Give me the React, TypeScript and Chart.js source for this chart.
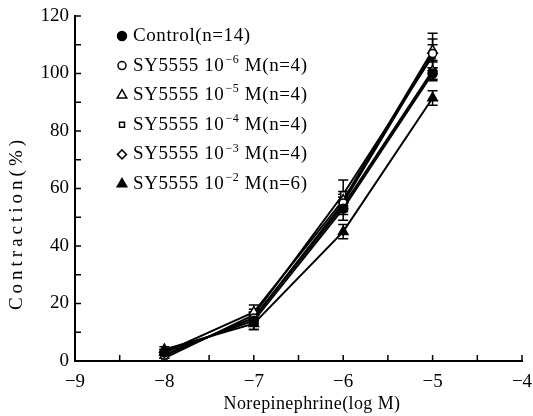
import React, { useEffect, useRef } from 'react';
import { Chart, registerables } from 'chart.js';
import { drawPoint } from 'chart.js/helpers';
Chart.register(...registerables);

// ---- data ----
const logDose = [-8, -7, -6, -5];
const controlValues = [3, 14, 53, 100];
const sy6Values = [2, 15, 55, 107];
const sy5Values = [3, 17, 56, 108];
const sy4Values = [1, 16, 58, 106];
const sy3Values = [2, 15, 54, 101];
const sy2Values = [4, 13, 45, 91.5];

const controlErr = [1, 3, 4, 2];
const sy6Err = [1, 2, 3, 7];
const sy5Err = [1, 2.5, 3, 4];
const sy4Err = [1, 2, 5, 4];
const sy3Err = [1, 2, 3, 3.5];
const sy2Err = [1, 2, 2.5, 2.5];

const labelPrefix = ['Control(n=14)', 'SY5555 10', 'SY5555 10', 'SY5555 10', 'SY5555 10', 'SY5555 10'];
const labelExp = ['', '−6', '−5', '−4', '−3', '−2'];
const labelSuffix = ['', ' M(n=4)', ' M(n=4)', ' M(n=4)', ' M(n=4)', ' M(n=6)'];

const xTickValues = [-9, -8, -7, -6, -5, -4];
const yTickValues = [0, 20, 40, 60, 80, 100, 120];

const xTitle = 'Norepinephrine(log M)';
const yTitle = 'Contraction(%)';

const FONT = '"Liberation Serif", "DejaVu Serif", serif';

const seriesValues = [controlValues, sy6Values, sy5Values, sy4Values, sy3Values, sy2Values];
const seriesErr = [controlErr, sy6Err, sy5Err, sy4Err, sy3Err, sy2Err];
const markerStyle = ['circle', 'circle', 'triangle', 'rect', 'rectRot', 'triangle'];
const markerFill = ['#000', '#fff', '#fff', '#fff', '#fff', '#000'];
const markerRadius = [4.5, 4, 5.5, 3.5, 4.5, 5.5];

const errorBars = {
  id: 'errorBars',
  beforeDatasetsDraw(chart: any) {
    const { ctx, scales } = chart;
    ctx.save();
    ctx.strokeStyle = '#000';
    ctx.lineWidth = 1.5;
    chart.data.datasets.forEach((ds: any) => {
      const errs = ds.errors as number[];
      ds.data.forEach((p: any, i: number) => {
        const x = scales.x.getPixelForValue(p.x);
        const yt = scales.y.getPixelForValue(p.y + errs[i]);
        const yb = scales.y.getPixelForValue(p.y - errs[i]);
        ctx.beginPath();
        ctx.moveTo(x, yt); ctx.lineTo(x, yb);
        ctx.moveTo(x - 5, yt); ctx.lineTo(x + 5, yt);
        ctx.moveTo(x - 5, yb); ctx.lineTo(x + 5, yb);
        ctx.stroke();
      });
    });
    ctx.restore();
  },
};

const decorations = {
  id: 'decorations',
  afterDraw(chart: any) {
    const { ctx, scales, chartArea } = chart;
    const xs = scales.x, ys = scales.y;
    ctx.save();
    ctx.strokeStyle = '#000';
    ctx.lineWidth = 1.5;
    // inward ticks (major + midpoints)
    const yt = ys.ticks.map((t: any) => t.value);
    const yAll: number[] = [];
    yt.forEach((v: number, i: number) => { yAll.push(v); if (i < yt.length - 1) yAll.push((v + yt[i + 1]) / 2); });
    yAll.forEach((v) => {
      const y = ys.getPixelForValue(v);
      ctx.beginPath(); ctx.moveTo(chartArea.left, y); ctx.lineTo(chartArea.left + 6, y); ctx.stroke();
    });
    const xt = xs.ticks.map((t: any) => t.value);
    const xAll: number[] = [];
    xt.forEach((v: number, i: number) => { xAll.push(v); if (i < xt.length - 1) xAll.push((v + xt[i + 1]) / 2); });
    xAll.forEach((v) => {
      const x = xs.getPixelForValue(v);
      ctx.beginPath(); ctx.moveTo(x, chartArea.bottom); ctx.lineTo(x, chartArea.bottom - 6); ctx.stroke();
    });
    // titles
    ctx.fillStyle = '#000';
    ctx.textAlign = 'center';
    ctx.textBaseline = 'middle';
    ctx.font = `18px ${FONT}`;
    (ctx as any).letterSpacing = '0.4px';
    ctx.fillText(xTitle, 312, 404);
    ctx.save();
    ctx.translate(17, 223);
    ctx.rotate(-Math.PI / 2);
    ctx.font = `19px ${FONT}`;
    (ctx as any).letterSpacing = '4px';
    ctx.fillText(yTitle, 0, 0);
    ctx.restore();
    // legend
    ctx.textAlign = 'left';
    (ctx as any).letterSpacing = '0.6px';
    labelPrefix.forEach((pre, i) => {
      const y = 36 + i * 29.6;
      ctx.fillStyle = markerFill[i];
      ctx.strokeStyle = '#000';
      ctx.lineWidth = 1.5;
      drawPoint(ctx, { pointStyle: markerStyle[i], radius: markerRadius[i], rotation: 0, borderWidth: 1.5 } as any, 122, y);
      ctx.fillStyle = '#000';
      let x = 133;
      ctx.font = `19px ${FONT}`;
      ctx.fillText(pre, x, y);
      x += ctx.measureText(pre).width + 1;
      if (labelExp[i]) {
        ctx.font = `12px ${FONT}`;
        ctx.fillText(labelExp[i], x, y - 6);
        x += ctx.measureText(labelExp[i]).width;
        ctx.font = `19px ${FONT}`;
        ctx.fillText(labelSuffix[i], x, y);
      }
    });
    ctx.restore();
  },
};

export default function App() {
  const ref = useRef<HTMLCanvasElement>(null);
  useEffect(() => {
    const datasets = seriesValues.map((vals, i) => ({
      label: labelPrefix[i] + labelExp[i] + labelSuffix[i],
      data: vals.map((v, j) => ({ x: logDose[j], y: v })),
      errors: seriesErr[i],
      borderColor: '#000',
      borderWidth: 2,
      backgroundColor: markerFill[i],
      pointBackgroundColor: markerFill[i],
      pointBorderColor: '#000',
      pointBorderWidth: 1.5,
      pointStyle: markerStyle[i],
      pointRadius: markerRadius[i],
      showLine: true,
      fill: false,
      tension: 0,
    }));
    const chart = new Chart(ref.current!, {
      type: 'scatter',
      data: { datasets } as any,
      plugins: [errorBars, decorations],
      options: {
        animation: false,
        responsive: true,
        maintainAspectRatio: false,
        layout: { padding: { top: 16, right: 11, left: 0, bottom: 0 } },
        plugins: { legend: { display: false }, tooltip: { enabled: false } },
        scales: {
          x: {
            type: 'linear',
            min: xTickValues[0],
            max: xTickValues[xTickValues.length - 1],
            afterBuildTicks: (s: any) => { s.ticks = xTickValues.map((v) => ({ value: v })); },
            afterFit: (s: any) => { s.height = 55; s.paddingLeft = 0; s.paddingRight = 0; },
            grid: { display: false, drawTicks: false },
            border: { display: true, color: '#000', width: 2 },
            ticks: {
              color: '#000',
              padding: 10,
              font: { family: FONT, size: 19 },
              callback: (v: any) => (v < 0 ? '−' + Math.abs(v) : String(v)),
            },
          },
          y: {
            type: 'linear',
            min: yTickValues[0],
            max: yTickValues[yTickValues.length - 1],
            afterBuildTicks: (s: any) => { s.ticks = yTickValues.map((v) => ({ value: v })); },
            afterFit: (s: any) => { s.width = 75; s.paddingTop = 0; s.paddingBottom = 0; },
            grid: { display: false, drawTicks: false },
            border: { display: true, color: '#000', width: 2 },
            ticks: {
              color: '#000',
              padding: 6,
              font: { family: FONT, size: 19 },
              callback: (v: any) => String(v),
            },
          },
        },
      },
    });
    return () => chart.destroy();
  }, []);
  return (
    <div style={{ position: 'absolute', left: 0, top: 0, width: 533, height: 416, background: '#fff' }}>
      <canvas ref={ref} />
    </div>
  );
}
